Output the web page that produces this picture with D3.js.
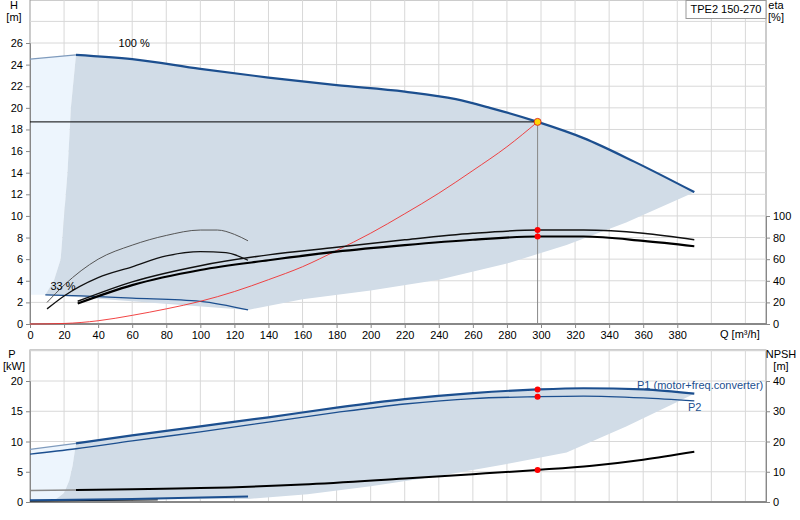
<!DOCTYPE html>
<html><head><meta charset="utf-8">
<script src="https://cdn.jsdelivr.net/npm/d3@7"></script>
<style>body{margin:0;background:#fff}text{font-family:"Liberation Sans",Arial,sans-serif;font-size:11px}</style>
</head><body><div id="chart"></div>
<script>
// ---- data ----
var qTicks = d3.range(0, 400, 20)
var hTicks = d3.range(0, 28, 2)
var etaTicks = [0, 20, 40, 60, 80, 100]
var pTicks = [0, 5, 10, 15, 20]
var npshTicks = [0, 10, 20, 30, 40]

var h100 = [[27, 24.9], [60, 24.5], [100, 23.6], [140, 22.8], [180, 22.1], [220, 21.5], [250, 20.8], [270, 20.0], [298, 18.7], [325, 17.2], [355, 15.0], [390, 12.2]]
var h100Start = [[0, 24.5], [27, 24.9]]
var h33 = [[9, 2.7], [30, 2.6], [60, 2.4], [100, 2.1], [128, 1.3]]
var system = [[0, 0], [20, 0.05], [40, 0.3], [60, 0.8], [80, 1.4], [100, 2.1], [120, 3.0], [140, 4.1], [160, 5.3], [180, 6.8], [200, 8.4], [220, 10.2], [240, 12.1], [260, 14.2], [280, 16.4], [298, 18.7]]
var areaLow = [[390, 12.2], [350, 9.4], [315, 7.3], [280, 5.6], [240, 4.1], [200, 3.1], [160, 2.3], [128, 1.3], [9, 2.7]]
var areaLeft = [[9, 2.7], [14, 4], [18, 6], [20, 10], [22, 14], [24, 20], [27, 24.9]]
// efficiency curves (%)
var eta1 = [[28, 19], [60, 36], [100, 50], [140, 59], [180, 67], [220, 73], [260, 78], [298, 81], [325, 81], [360, 77], [390, 72]]
var eta2 = [[28, 21], [60, 39], [100, 54], [140, 64], [180, 71], [220, 78], [260, 84], [298, 87], [325, 87], [360, 84], [390, 78]]
var eta3 = [[10, 14], [20, 26], [40, 43], [60, 53], [80, 63], [100, 67], [115, 66], [128, 59]]
var eta4 = [[10, 20], [20, 36], [40, 60], [60, 73], [80, 82], [100, 87], [110, 87], [120, 83], [128, 77]]
// power (kW) and NPSH (m)
var p1 = [[27, 9.7], [60, 11.0], [100, 12.5], [140, 14.0], [180, 15.6], [220, 17.0], [260, 18.0], [298, 18.6], [325, 18.8], [360, 18.6], [390, 17.9]]
var p1Start = [[0, 8.7], [27, 9.7]]
var p2 = [[0, 7.9], [27, 8.8], [60, 10.1], [100, 11.6], [140, 13.2], [180, 14.8], [220, 16.2], [260, 17.1], [298, 17.4], [325, 17.5], [360, 17.2], [390, 16.7]]
var p33 = [[0, 0.3], [60, 0.5], [128, 0.9]]
var npsh = [[27, 4.0], [100, 4.6], [160, 5.8], [220, 7.8], [260, 9.2], [298, 10.6], [330, 12.0], [360, 14.0], [390, 16.6]]
var npshStart = [[0, 3.8], [27, 4.0]]
var pLow = [[390, 17.9], [350, 12.5], [315, 8.2], [280, 6.3], [240, 4.3], [200, 2.6], [163, 1.3], [128, 0.5], [15, 0.4]]
var pLeft = [[15, 0.4], [20, 1.5], [23, 3.5], [25, 6], [27, 9.7]]
var opQ = 298, opH = 18.7, opEta = [87, 81], opP = [18.6, 17.4], opNpsh = 10.6

var W = 800, H = 520
var L = 30, R = 766
var x = d3.scaleLinear().domain([0, 300]).range([30, 541])
var y = d3.scaleLinear().domain([0, 26]).range([324, 43])
var yEta = d3.scaleLinear().domain([0, 100]).range([324, 216])
var yP = d3.scaleLinear().domain([0, 20]).range([502, 381])
var yN = d3.scaleLinear().domain([0, 40]).range([502, 381])

var svg = d3.select('#chart').append('svg').attr('width', W).attr('height', H)
var blue = '#1c4f8f', shade = '#d1dce7', light = '#edf5fd', grid = '#d8d8d8'

function panel(y0, y1, yTicksPos) {
  var g = svg.append('g')
  g.append('rect').attr('x', L).attr('y', y0).attr('width', R - L).attr('height', y1 - y0)
    .attr('fill', 'none').attr('stroke', '#999')
  g.selectAll('.vx').data(qTicks.slice(1).concat([400, 420])).join('line')
    .attr('x1', d => x(d)).attr('x2', d => x(d)).attr('y1', y0).attr('y2', y1)
    .attr('stroke', grid)
  g.selectAll('.hy').data(yTicksPos).join('line')
    .attr('x1', L).attr('x2', R).attr('y1', d => d).attr('y2', d => d).attr('stroke', grid)
  return g
}
panel(0, 324, hTicks.slice(1).concat([28]).map(d => y(d)))
panel(350, 502, [5, 10, 15, 20, 25].map(d => yP(d)))

var line = (sx, sy) => d3.line().x(d => sx(d[0])).y(d => sy(d[1]))
var lH = line(x, y), lE = line(x, yEta), lP = line(x, yP), lN = line(x, yN)
var cH = d3.line().x(d => x(d[0])).y(d => y(d[1])).curve(d3.curveMonotoneX)

// shaded areas
svg.append('path').attr('fill', light)
  .attr('d', lH([[0, 2.7]].concat(h100Start, areaLeft.slice().reverse())))
svg.append('path').attr('fill', shade)
  .attr('d', lH(h100.concat(areaLow, areaLeft.slice(1))))
svg.append('path').attr('fill', light)
  .attr('d', lP([[0, 0]].concat(p1Start, pLeft.slice().reverse())))
svg.append('path').attr('fill', shade)
  .attr('d', lP(p1.concat(pLow, pLeft.slice(1))))

// axes
svg.append('g').attr('transform', 'translate(' + L + ',0)')
  .call(d3.axisLeft(y).tickValues(hTicks).tickSize(4).tickPadding(3))
svg.append('g').attr('transform', 'translate(' + R + ',0)')
  .call(d3.axisRight(yEta).tickValues(etaTicks).tickSize(4).tickPadding(3))
svg.append('g').attr('transform', 'translate(0,324)')
  .call(d3.axisBottom(x).tickValues(qTicks).tickSize(4).tickPadding(3))
svg.append('g').attr('transform', 'translate(' + L + ',0)')
  .call(d3.axisLeft(yP).tickValues(pTicks).tickSize(4).tickPadding(3))
svg.append('g').attr('transform', 'translate(' + R + ',0)')
  .call(d3.axisRight(yN).tickValues(npshTicks).tickSize(4).tickPadding(3))
svg.selectAll('.domain').attr('stroke', '#888')
svg.selectAll('.tick line').attr('stroke', '#888')
svg.selectAll('.tick text').attr('fill', '#000').style('font-size', '11px')
svg.append('line').attr('x1', L).attr('x2', R).attr('y1', 324).attr('y2', 324).attr('stroke', '#888').attr('stroke-width', 2)
svg.append('line').attr('x1', L).attr('x2', R).attr('y1', 502).attr('y2', 502).attr('stroke', '#888').attr('stroke-width', 2)

// curves top
var sm = d3.curveMonotoneX
function draw(d, gen, col, w) {
  svg.append('path').attr('d', gen.curve(sm)(d)).attr('fill', 'none').attr('stroke', col).attr('stroke-width', w)
}
draw(h100Start, lH, '#7f9bbd', 1.2)
draw(h100, lH, blue, 2.2)
draw(h33, lH, blue, 1.3)
draw(system, lH, '#f03030', 0.9)
draw(eta4, lE, '#555', 1)
draw(eta3, lE, '#111', 1.3)
draw(eta2, lE, '#111', 1.5)
draw(eta1, lE, '#000', 2.2)
svg.append('line').attr('x1', L).attr('x2', x(opQ)).attr('y1', y(opH)).attr('y2', y(opH)).attr('stroke', '#000')
svg.append('line').attr('x1', x(opQ)).attr('x2', x(opQ)).attr('y1', y(opH)).attr('y2', 324).attr('stroke', '#888')
opEta.forEach(e => svg.append('circle').attr('cx', x(opQ)).attr('cy', yEta(e)).attr('r', 3).attr('fill', 'red'))
svg.append('circle').attr('cx', x(opQ)).attr('cy', y(opH)).attr('r', 3.5).attr('fill', '#ffd700').attr('stroke', '#e03020')

// curves bottom
draw(p1Start, lP, '#7f9bbd', 1.2)
draw(p1, lP, blue, 2.2)
draw(p2, lP, blue, 1.3)
draw(npshStart, lN, '#888', 1.5)
draw(npsh, lN, '#000', 2)
draw([[0, 0.15], [75, 0.35]], lP, '#000', 1)
draw(p33, lP, blue, 2)
opP.forEach(p => svg.append('circle').attr('cx', x(opQ)).attr('cy', yP(p)).attr('r', 3).attr('fill', 'red'))
svg.append('circle').attr('cx', x(opQ)).attr('cy', yN(opNpsh)).attr('r', 3).attr('fill', 'red')

// labels
function txt(t, tx, ty, col, anchor) {
  svg.append('text').attr('x', tx).attr('y', ty).attr('fill', col || '#000').attr('text-anchor', anchor || 'start').text(t)
}
txt('100 %', x(52), y(25.6))
txt('33 %', x(12), y(3.1))
txt('H', 14, 9, '#000', 'middle'); txt('[m]', 14, 21, '#000', 'middle')
txt('eta', 776, 9, '#000', 'middle'); txt('[%]', 776, 21, '#000', 'middle')
txt('Q [m³/h]', 720, 338)
txt('P', 12, 358, '#000', 'middle'); txt('[kW]', 14, 370, '#000', 'middle')
txt('NPSH', 781, 358, '#000', 'middle'); txt('[m]', 781, 370, '#000', 'middle')
txt('P1 (motor+freq.converter)', 637, 389, blue)
txt('P2', 688, 411, blue)
svg.append('rect').attr('x', 686).attr('y', 0.5).attr('width', 80).attr('height', 18).attr('fill', '#fff').attr('stroke', '#999')
txt('TPE2 150-270', 726, 13, '#000', 'middle')
</script></body></html>
